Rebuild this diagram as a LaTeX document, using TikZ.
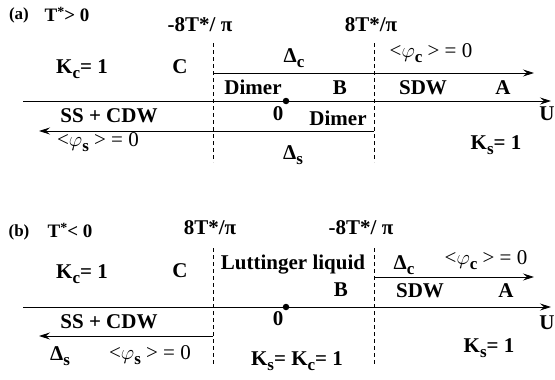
\documentclass[tikz,border=0pt]{standalone}
\usepackage{fontspec}
\setmainfont{Liberation Serif}
\usetikzlibrary{arrows.meta,positioning}
\newcommand{\lowsub}[1]{\raisebox{-5.5pt}{\fontsize{17}{17}\selectfont\bfseries #1}}
\newcommand{\highstar}{\raisebox{5pt}{\fontsize{14}{14}\selectfont *}}
\newcommand{\phiexp}[1]{<$\varphi$\lowsub{#1} > = 0}

\begin{document}
\begin{tikzpicture}[x=1pt, y=-1pt,
  every node/.style={inner sep=0pt, font=\fontsize{21}{24}\selectfont\bfseries},
  thin label/.style={font=\fontsize{21}{24}\selectfont},
  tag/.style={font=\fontsize{17}{20}\selectfont\bfseries},
  title/.style={font=\fontsize{19}{22}\selectfont\bfseries},
  phase/.style={line width=0.9pt, -{Stealth[length=11pt,width=7pt,inset=4pt]}},
  border/.style={line width=0.9pt, dash pattern=on 4pt off 3pt},
  origin/.style={circle, fill, minimum size=6.5pt}]
  \useasboundingbox (0,0) rectangle (555,380);

  % (a) T* > 0
  \node[tag] (atag) at (19,15) {(a)};
  \node[title] (atitle) at (67,14) {T\highstar> 0};
  \node (aleft)  at (200,25) {-8T*/ π};
  \node (aright) at (371,25) {8T*/π};
  \coordinate (aLtop) at (213,43);
  \coordinate (aLbot) at (213,162);
  \coordinate (aRtop) at (374,43);
  \coordinate (aRbot) at (374,162);
  \draw[border] (aLtop) -- (aLbot);
  \draw[border] (aRtop) -- (aRbot);
  \coordinate (acfrom) at (213,73);
  \coordinate (acto)   at (534,73);
  \coordinate (aufrom) at (23,101);
  \coordinate (auto)   at (551,101);
  \coordinate (asfrom) at (374,131);
  \coordinate (asto)   at (39,131);
  \draw[phase] (acfrom) -- (acto);
  \draw[phase] (aufrom) -- (auto);
  \draw[phase] (asfrom) -- (asto);
  \node[origin] (azero) at (286,101) {};
  \node (azerolab) at (278,114) {0};
  \node (akc)  at (82,69) {K\lowsub{c}= 1};
  \node (ac)   at (180,67) {C};
  \node (adc)  at (294,58) {Δ\lowsub{c}};
  \node[thin label] (aphic) at (431,53) {\phiexp{c}};
  \node (adim) at (253,87) {Dimer};
  \node (ab)   at (340,88) {B};
  \node (asdw) at (423,88) {SDW};
  \node (aa)   at (503,88) {A};
  \node (au)   at (547,114) {U};
  \node (acdw) at (109,116) {SS + CDW};
  \node (adim2) at (338,118) {Dimer};
  \node[thin label] (aphis) at (98,142) {\phiexp{s}};
  \node (ads)  at (293,155) {Δ\lowsub{s}};
  \node (aks)  at (496,145) {K\lowsub{s}= 1};

  % (b) T* < 0
  \node[tag] (btag) at (19,232) {(b)};
  \node[title] (btitle) at (70,230) {T\highstar< 0};
  \node (bleft)  at (210,228) {8T*/π};
  \node (bright) at (361,228) {-8T*/ π};
  \coordinate (bLtop) at (213,248);
  \coordinate (bLbot) at (213,365);
  \coordinate (bRtop) at (374,248);
  \coordinate (bRbot) at (374,365);
  \draw[border] (bLtop) -- (bLbot);
  \draw[border] (bRtop) -- (bRbot);
  \coordinate (bcfrom) at (374,277);
  \coordinate (bcto)   at (534,277);
  \coordinate (bufrom) at (23,307);
  \coordinate (buto)   at (551,307);
  \coordinate (bsfrom) at (213,336);
  \coordinate (bsto)   at (39,336);
  \draw[phase] (bcfrom) -- (bcto);
  \draw[phase] (bufrom) -- (buto);
  \draw[phase] (bsfrom) -- (bsto);
  \node[origin] (bzero) at (286,307) {};
  \node (bzerolab) at (278,319) {0};
  \node (bkc)  at (82,274) {K\lowsub{c}= 1};
  \node (bc)   at (180,271) {C};
  \node (blut) at (293,265) {Luttinger liquid};
  \node (bdc)  at (404,265) {Δ\lowsub{c}};
  \node[thin label] (bphic) at (486,260) {\phiexp{c}};
  \node (bb)   at (341,290) {B};
  \node (bsdw) at (420,291) {SDW};
  \node (ba)   at (506,291) {A};
  \node (bu)   at (547,323) {U};
  \node (bcdw) at (109,322) {SS + CDW};
  \node (bds)  at (60,356) {Δ\lowsub{s}};
  \node[thin label] (bphis) at (150,355) {\phiexp{s}};
  \node (bksc) at (297,361) {K\lowsub{s}= K\lowsub{c}= 1};
  \node (bks)  at (489,348) {K\lowsub{s}= 1};
\end{tikzpicture}
\end{document}
